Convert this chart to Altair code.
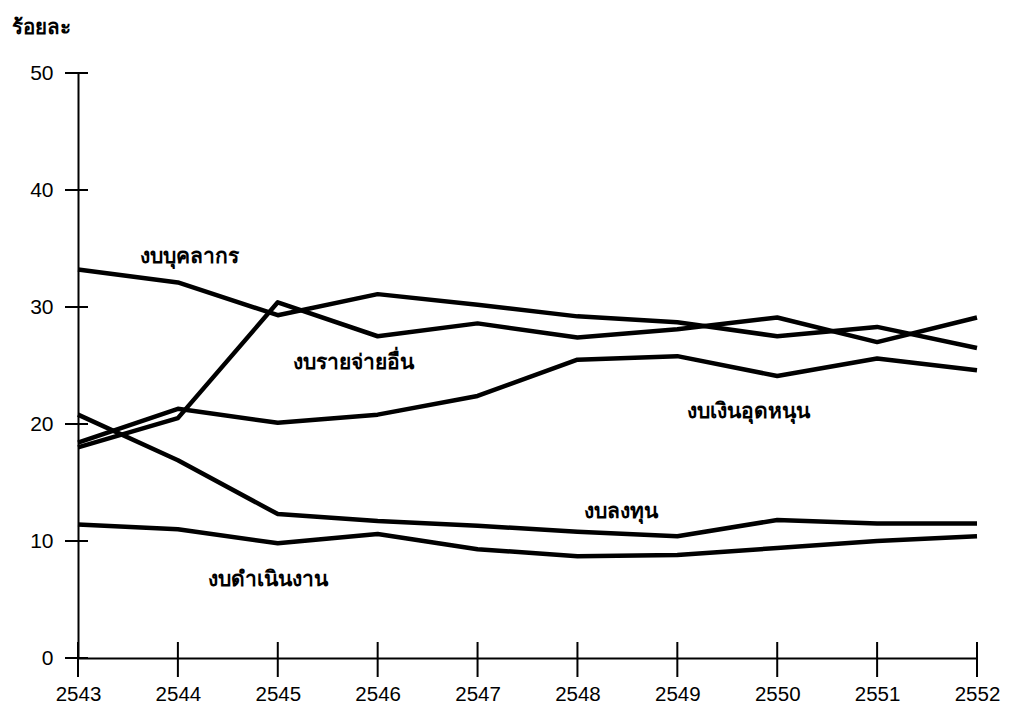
import altair as alt
import pandas as pd

years = [2543, 2544, 2545, 2546, 2547, 2548, 2549, 2550, 2551, 2552]
personnel = [33.2, 32.1, 29.3, 31.1, 30.2, 29.2, 28.7, 27.5, 28.3, 26.5]
other = [18.0, 20.5, 30.4, 27.5, 28.6, 27.4, 28.1, 29.1, 27.0, 29.1]
subsidy = [18.4, 21.3, 20.1, 20.8, 22.4, 25.5, 25.8, 24.1, 25.6, 24.6]
capital = [20.8, 16.9, 12.3, 11.7, 11.3, 10.8, 10.4, 11.8, 11.5, 11.5]
operating = [11.4, 11.0, 9.8, 10.6, 9.3, 8.7, 8.8, 9.4, 10.0, 10.4]

series_names = ["งบบุคลากร", "งบรายจ่ายอื่น", "งบเงินอุดหนุน", "งบลงทุน", "งบดำเนินงาน"]
series_values = [personnel, other, subsidy, capital, operating]

label_text = ["งบบุคลากร", "งบรายจ่ายอื่น", "งบเงินอุดหนุน", "งบลงทุน", "งบดำเนินงาน"]
label_year = [2543.62, 2545.15, 2549.10, 2548.07, 2544.30]
label_value = [34.3, 25.2, 21.0, 12.5, 6.7]

y_ticks = [0, 10, 20, 30, 40, 50]

rows = []
for name, vals in zip(series_names, series_values):
    for yr, v in zip(years, vals):
        rows.append({"series": name, "year": yr, "value": v})
df = pd.DataFrame(rows)
labels_df = pd.DataFrame({"text": label_text, "year": label_year, "value": label_value})
ytick_df = pd.DataFrame({"v": y_ticks})
xtick_df = pd.DataFrame({"year": years})

W, H = 899, 585
FONT = "Liberation Sans"

xscale = alt.Scale(domain=[2543, 2552], nice=False, zero=False)
yscale = alt.Scale(domain=[0, 50], nice=False)

lines = alt.Chart(df).mark_line(color="black", strokeWidth=4.5, strokeJoin="round").encode(
    x=alt.X("year:Q", scale=xscale,
            axis=alt.Axis(values=years, format="d", title=None, ticks=False, grid=False,
                          domainColor="black", domainWidth=2, labelFont=FONT, labelFontSize=20.5,
                          labelColor="black", labelPadding=26, labelBaseline="top",
                          labelFlush=False, labelOverlap=False)),
    y=alt.Y("value:Q", scale=yscale,
            axis=alt.Axis(values=y_ticks, title=None, ticks=False, grid=False,
                          domainColor="black", domainWidth=2, labelFont=FONT, labelFontSize=21,
                          labelColor="black", labelPadding=25, labelFlush=False,
                          labelOverlap=False)),
    detail="series:N",
)

yticks = alt.Chart(ytick_df).mark_rule(color="black", strokeWidth=2).encode(
    y=alt.Y("v:Q", scale=yscale), x=alt.value(-13), x2=alt.value(10)
)
xticks = alt.Chart(xtick_df).mark_rule(color="black", strokeWidth=2).encode(
    x=alt.X("year:Q", scale=xscale), y=alt.value(H - 16), y2=alt.value(H + 19)
)
xstub = alt.Chart(pd.DataFrame({"v": [0]})).mark_rule(color="black", strokeWidth=2).encode(
    y=alt.Y("v:Q", scale=yscale), x=alt.value(-11), x2=alt.value(0)
)

texts = alt.Chart(labels_df).mark_text(
    align="left", baseline="middle", fontSize=21, fontWeight="bold", color="black"
).encode(
    x=alt.X("year:Q", scale=xscale), y=alt.Y("value:Q", scale=yscale), text="text:N"
)

unit = alt.Chart(pd.DataFrame({"t": ["ร้อยละ"]})).mark_text(
    align="left", baseline="middle", fontSize=20.5, fontWeight="bold", color="black"
).encode(x=alt.value(-66), y=alt.value(-45), text="t:N")

chart = alt.layer(lines, yticks, xticks, xstub, texts, unit).properties(
    width=W, height=H,
    autosize=alt.AutoSizeParams(type="none"),
    padding={"left": 70, "top": 65, "right": 26, "bottom": 45},
).configure_view(stroke=None)

chart.save("out.html", embed_options={"renderer": "svg", "actions": False})
